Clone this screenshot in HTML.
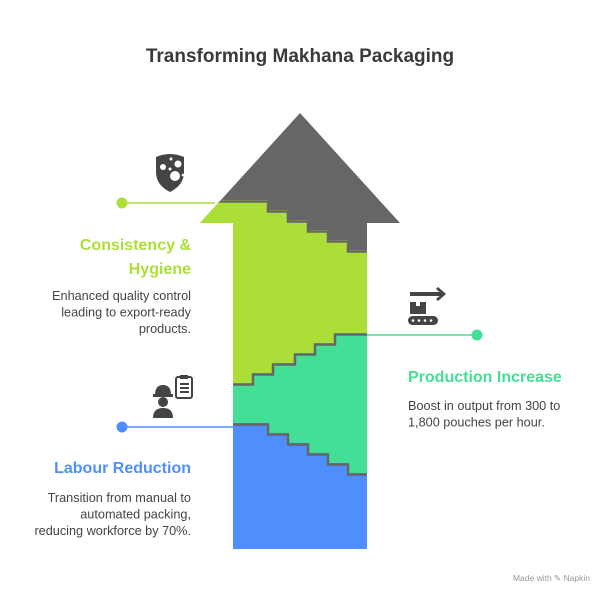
<!DOCTYPE html>
<html><head><meta charset="utf-8"><style>
html,body{margin:0;padding:0;background:#fff;}
svg{display:block;font-family:"Liberation Sans",Arial,sans-serif;}
</style></head><body>
<svg width="600" height="600" viewBox="0 0 600 600" xmlns="http://www.w3.org/2000/svg">
<defs>
<clipPath id="arr"><polygon points="300,113 400,223 367,223 367,549 233,549 233,223 200,223"/></clipPath>
</defs>
<text x="300" y="62" text-anchor="middle" font-size="19" font-weight="bold" fill="#3a3a3a">Transforming Makhana Packaging</text>

<g clip-path="url(#arr)">
<rect x="190" y="100" width="220" height="460" fill="#666"/>
<polygon points="180,200 268,200 268,210 288,210 288,220 308,220 308,230 328,230 328,240 348,240 348,250 410,250 410,600 180,600" fill="#abdf38"/>
<polygon points="180,383 233,383 253,383 253,373 273,373 273,363 295,363 295,353 315,353 315,343 335,343 335,333 410,333 410,600 180,600" fill="#44df96"/>
<polygon points="180,423 268,423 268,433 288,433 288,443 308,443 308,453 328,453 328,463 348,463 348,473 410,473 410,600 180,600" fill="#4f8ffd"/>
<g fill="none" stroke="#666" stroke-width="2.5">
<polyline points="180,201.5 268,201.5 268,211.5 288,211.5 288,221.5 308,221.5 308,231.5 328,231.5 328,241.5 348,241.5 348,251.5 410,251.5"/>
<polyline points="233,384.5 253,384.5 253,374.5 273,374.5 273,364.5 295,364.5 295,354.5 315,354.5 315,344.5 335,344.5 335,334.5 410,334.5"/>
<polyline points="180,424.5 268,424.5 268,434.5 288,434.5 288,444.5 308,444.5 308,454.5 328,454.5 328,464.5 348,464.5 348,474.5 410,474.5"/>
</g>
</g>

<line x1="122" y1="203" x2="215" y2="203" stroke="#abdf38" stroke-width="1.5"/>
<circle cx="122" cy="203" r="5.5" fill="#abdf38"/>
<line x1="367" y1="335" x2="477" y2="335" stroke="#44df96" stroke-width="1.5"/>
<circle cx="477" cy="335" r="5.5" fill="#44df96"/>
<line x1="122" y1="427" x2="233" y2="427" stroke="#4f8ffd" stroke-width="1.5"/>
<circle cx="122" cy="427" r="5.5" fill="#4f8ffd"/>

<path d="M156,157 Q170,151 184,157 L184,172 Q184,185 170,192 Q156,185 156,172 Z" fill="#444"/>
<circle cx="178" cy="164" r="3.5" fill="#fff"/><circle cx="171" cy="159" r="1.5" fill="#fff"/>
<circle cx="163" cy="167" r="3" fill="#fff"/><circle cx="175" cy="176" r="5" fill="#fff"/>
<circle cx="170" cy="169" r="1.5" fill="#fff"/><circle cx="183" cy="175" r="1.3" fill="#fff"/>

<g fill="#444">
<rect x="410" y="292" width="32" height="4"/>
<polygon points="438,287 446,294 438,301 436,299 442,294 436,289"/>
<rect x="410" y="302" width="16" height="12"/>
<rect x="408" y="316" width="30" height="9" rx="4.5"/>
</g>
<rect x="416" y="302" width="4" height="4" fill="#fff"/>
<g fill="#fff"><circle cx="413" cy="320.5" r="1.3"/><circle cx="419" cy="320.5" r="1.3"/><circle cx="425" cy="320.5" r="1.3"/><circle cx="431" cy="320.5" r="1.3"/></g>

<g fill="#444">
<rect x="176" y="377" width="16" height="21" rx="2" fill="none" stroke="#444" stroke-width="2"/>
<rect x="180" y="375" width="8" height="4"/>
<rect x="180" y="383" width="9" height="2"/><rect x="180" y="387" width="9" height="2"/><rect x="180" y="391" width="9" height="2"/>
<path d="M155,395 Q155,385 163,385 Q171,385 171,395 Z"/>
<rect x="153" y="394" width="20" height="3"/>
<circle cx="163" cy="402" r="5"/>
<path d="M153,418 Q153,408 163,408 Q173,408 173,418 Z"/>
</g>

<g text-anchor="end">
<text x="191" y="250" font-size="16" font-weight="bold" fill="#abdf38">Consistency &amp;</text>
<text x="191" y="274" font-size="16" font-weight="bold" fill="#abdf38">Hygiene</text>
<text x="191" y="300" font-size="12.7" fill="#444">Enhanced quality control</text>
<text x="191" y="316.5" font-size="12.7" fill="#444">leading to export-ready</text>
<text x="191" y="333" font-size="12.7" fill="#444">products.</text>
<text x="191" y="473" font-size="16" font-weight="bold" fill="#4f8ffd">Labour Reduction</text>
<text x="191" y="502" font-size="12.7" fill="#444">Transition from manual to</text>
<text x="191" y="518.5" font-size="12.7" fill="#444">automated packing,</text>
<text x="191" y="535" font-size="12.7" fill="#444">reducing workforce by 70%.</text>
</g>
<text x="408" y="382" font-size="16" font-weight="bold" fill="#44df96">Production Increase</text>
<text x="408" y="410" font-size="12.7" fill="#444">Boost in output from 300 to</text>
<text x="408" y="426.5" font-size="12.7" fill="#444">1,800 pouches per hour.</text>
<text x="590" y="581" text-anchor="end" font-size="8.5" fill="#999">Made with ✎ Napkin</text>
</svg>
</body></html>
